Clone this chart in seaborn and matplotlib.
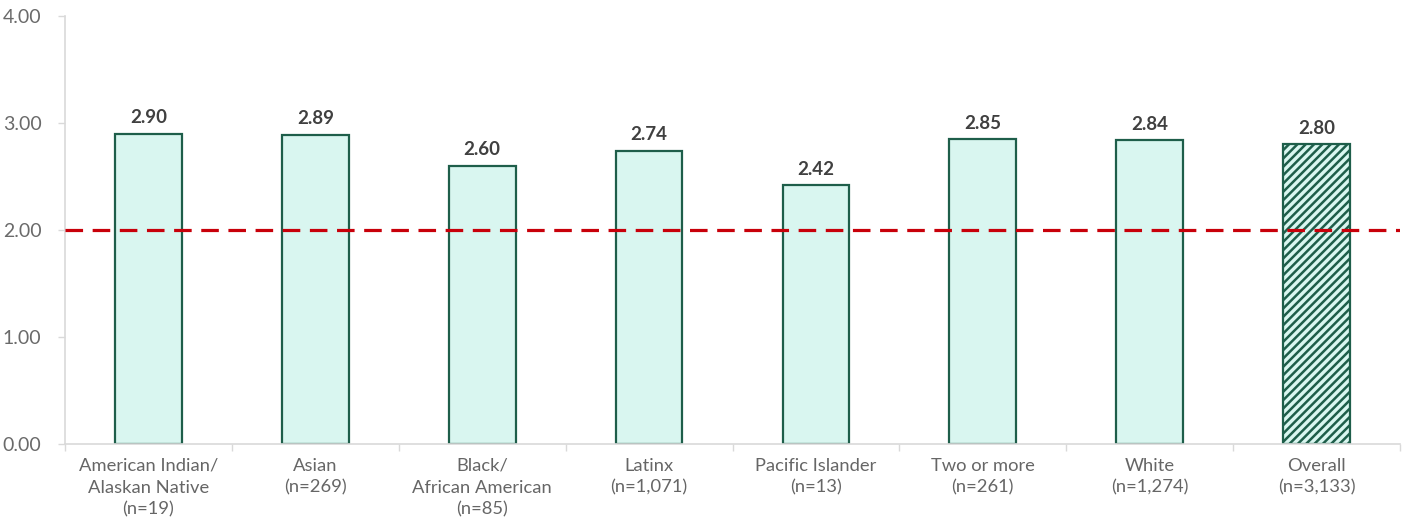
import matplotlib
matplotlib.use("Agg")
import matplotlib.pyplot as plt
import seaborn as sns
import pandas as pd
import numpy as np

categories = ["American Indian/\nAlaskan Native\n(n=19)", "Asian\n(n=269)",
              "Black/\nAfrican American\n(n=85)", "Latinx\n(n=1,071)",
              "Pacific Islander\n(n=13)", "Two or more\n(n=261)",
              "White\n(n=1,274)", "Overall\n(n=3,133)"]
values = [2.90, 2.89, 2.60, 2.74, 2.42, 2.85, 2.84, 2.80]
reference_value = 2.0

sns.set_theme(style="white")
plt.rcParams['font.family'] = ['Lato', 'DejaVu Sans']
plt.rcParams['hatch.color'] = '#1E5E4A'
plt.rcParams['hatch.linewidth'] = 1.8

df = pd.DataFrame({"cat": categories, "val": values})

fig = plt.figure(figsize=(14.05, 5.23), dpi=100)
ax = fig.add_axes([65/1405, 1-444/523, (1400-65)/1405, (444-16)/523])

sns.barplot(data=df, x="cat", y="val", ax=ax, color="#D9F6F0", width=0.4,
            edgecolor="#1E5E4A", linewidth=1.6, saturation=1)
bars = ax.patches
bars[-1].set_hatch('////')

for b, v in zip(bars, values):
    ax.text(b.get_x() + b.get_width()/2, v + 0.07, f"{v:.2f}", ha='center', va='bottom',
            fontsize=13.5, fontweight='bold', color='#404040')

ax.axhline(reference_value, color='#C8000A', linestyle=(0, (5.5, 3)), linewidth=2.3, zorder=5)

ax.set_ylim(0, 4)
ax.set_xlim(-0.5, 7.5)
ax.set_yticks([0, 1, 2, 3, 4])
ax.set_yticklabels([f"{t:.2f}" for t in [0, 1, 2, 3, 4]], fontsize=14, color='#6a6a6a', fontweight='normal')
ax.set_xticks(range(8))
ax.set_xticklabels(categories, fontsize=13.2, color='#666666', fontweight='normal', linespacing=1.45)
ax.set_xticks(np.arange(-0.5, 8, 1), minor=True)
ax.tick_params(axis='x', which='major', length=0, pad=10)
ax.tick_params(axis='x', which='minor', length=5, color='#D9D9D9', width=1, direction='out', bottom=True)
ax.tick_params(axis='y', length=5, color='#D9D9D9', width=1, direction='out', left=True, pad=12)
ax.set_xlabel("")
ax.set_ylabel("")
for s in ['top', 'right']:
    ax.spines[s].set_visible(False)
for s in ['left', 'bottom']:
    ax.spines[s].set_color('#D9D9D9')
    ax.spines[s].set_linewidth(1.2)

fig.savefig("out.png", dpi=100)
